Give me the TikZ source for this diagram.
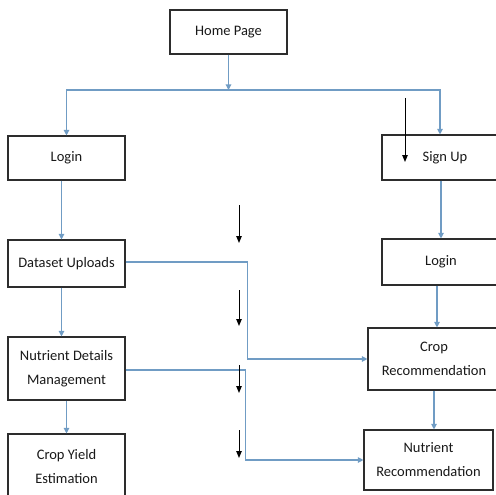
\documentclass[tikz,border=0pt]{standalone}
\usepackage{fontspec}
\setmainfont{Carlito}
\usetikzlibrary{arrows.meta}
\definecolor{flowblue}{RGB}{112,156,196}
\definecolor{boxline}{RGB}{45,45,45}
\begin{document}
\begin{tikzpicture}[x=1pt,y=-1pt,
  box/.style={draw=boxline, line width=1.1pt, fill=white, inner sep=0pt,
    align=center, font=\fontsize{14.5}{24}\selectfont, text=black!90},
  flow/.style={draw=flowblue, line width=1.1pt, -{Triangle[width=5.5pt,length=5.5pt]}},
  pointer/.style={draw=black, line width=1pt, -{Triangle[width=5.5pt,length=7pt]}}
]
\useasboundingbox (0,0) rectangle (496,495);
\clip (0,0) rectangle (496,495);

% boxes
\node[box, minimum width=117pt, minimum height=44pt] (home)   at (228.5,32)  {Home Page};
\node[box, minimum width=117pt, minimum height=44pt] (loginL) at (66.5,158)  {Login};
\node[box, minimum width=118pt, minimum height=45pt] (signup) at (441,157.5) {\hspace*{8pt}Sign Up};
\node[box, minimum width=117pt, minimum height=47pt] (upload) at (66.5,263.5) {Dataset Uploads};
\node[box, minimum width=118pt, minimum height=46pt] (loginR) at (441,262)   {Login};
\node[box, minimum width=117pt, minimum height=63pt] (nutdet) at (66.5,368.5) {Nutrient Details\\Management};
\node[box, minimum width=132pt, minimum height=62pt] (croprec) at (434,359)  {Crop\\Recommendation};
\node[box, minimum width=117pt, minimum height=66pt] (yield)  at (66.5,467)  {Crop Yield\\Estimation};
\node[box, minimum width=129pt, minimum height=60pt] (nutrec) at (428.5,460) {Nutrient\\Recommendation};

% tree from the home page
\coordinate (split) at (228.5,90);
\draw[flow] (home.south) -- (split);
\draw[flow] (split) -| (loginL.north);
\draw[flow] (split) -| ([xshift=-1pt]signup.north);

% left column
\draw[flow] ([xshift=-5pt]loginL.south) -- ([xshift=-5pt]upload.north);
\draw[flow] ([xshift=-5pt]upload.south) -- ([xshift=-5pt]nutdet.north);
\draw[flow] (nutdet.south) -- (yield.north);

% right column
\draw[flow] (signup.south) -- (loginR.north);
\draw[flow] ([xshift=-4pt]loginR.south) -- ([xshift=3pt]croprec.north);
\draw[flow] (croprec.south) -- (croprec.south |- nutrec.north);

% cross links
\draw[flow] ([yshift=1.5pt]upload.east) -- ++(122,0) |- (croprec.west);
\draw[flow] ([yshift=-1.5pt]nutdet.east) -- ++(120,0) |- (nutrec.west);

% free-standing black arrows
\coordinate (p0s) at (405,98);  \coordinate (p0e) at (405,162);
\coordinate (p1s) at (239,205); \coordinate (p1e) at (239,243);
\coordinate (p2s) at (239,290); \coordinate (p2e) at (239,326);
\coordinate (p3s) at (239,365); \coordinate (p3e) at (239,393);
\coordinate (p4s) at (239,430); \coordinate (p4e) at (239,458);
\foreach \i in {0,...,4} \draw[pointer] (p\i s) -- (p\i e);
\end{tikzpicture}
\end{document}
